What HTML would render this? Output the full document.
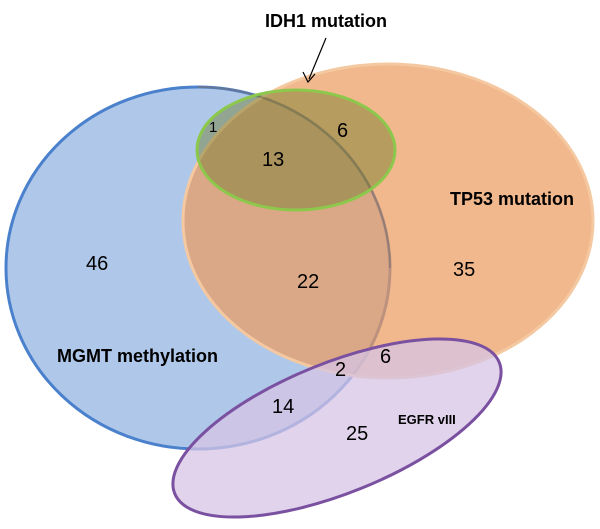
<!DOCTYPE html>
<html><head><style>body{margin:0;background:#fff}svg{display:block}</style></head><body>
<svg width="600" height="529" xmlns="http://www.w3.org/2000/svg" font-family="Liberation Sans, sans-serif">
<ellipse cx="198" cy="268" rx="192" ry="181" fill="#afc8e9" stroke="#4a80cc" stroke-width="3"/>
<ellipse cx="388" cy="221" rx="205" ry="157" fill="#ec9a5c" fill-opacity="0.7" stroke="#f4c8a0" stroke-width="3"/>
<path d="M 390 268 A 192 181 0 0 0 198 87" fill="none" stroke="#7a7070" stroke-width="2" opacity="0.6"/>
<ellipse cx="296" cy="150" rx="99" ry="60" fill="#6f7a2a" fill-opacity="0.45" stroke="#8cc84b" stroke-width="3"/>
<ellipse cx="337" cy="428" rx="175" ry="65" transform="rotate(-22 337 428)" fill="#d5c4e4" fill-opacity="0.75" stroke="#7a50a0" stroke-width="3"/>
<line x1="326" y1="38" x2="309" y2="79" stroke="#000" stroke-width="1.2"/>
<path d="M303 72 L308 82 L315 74" fill="none" stroke="#000" stroke-width="1.2"/>
<g font-weight="bold" font-size="18" fill="#000">
<text x="265" y="27">IDH1 mutation</text>
<text x="450" y="205">TP53 mutation</text>
<text x="57" y="362">MGMT methylation</text>
<text x="398" y="424" font-size="13">EGFR vIII</text>
</g>
<g font-size="20" fill="#000">
<text x="209" y="132" font-size="15">1</text>
<text x="337" y="137">6</text>
<text x="262" y="166">13</text>
<text x="86" y="270">46</text>
<text x="297" y="288">22</text>
<text x="453" y="276">35</text>
<text x="335" y="376">2</text>
<text x="380" y="363">6</text>
<text x="272" y="413">14</text>
<text x="346" y="440">25</text>
</g>
</svg>
</body></html>
